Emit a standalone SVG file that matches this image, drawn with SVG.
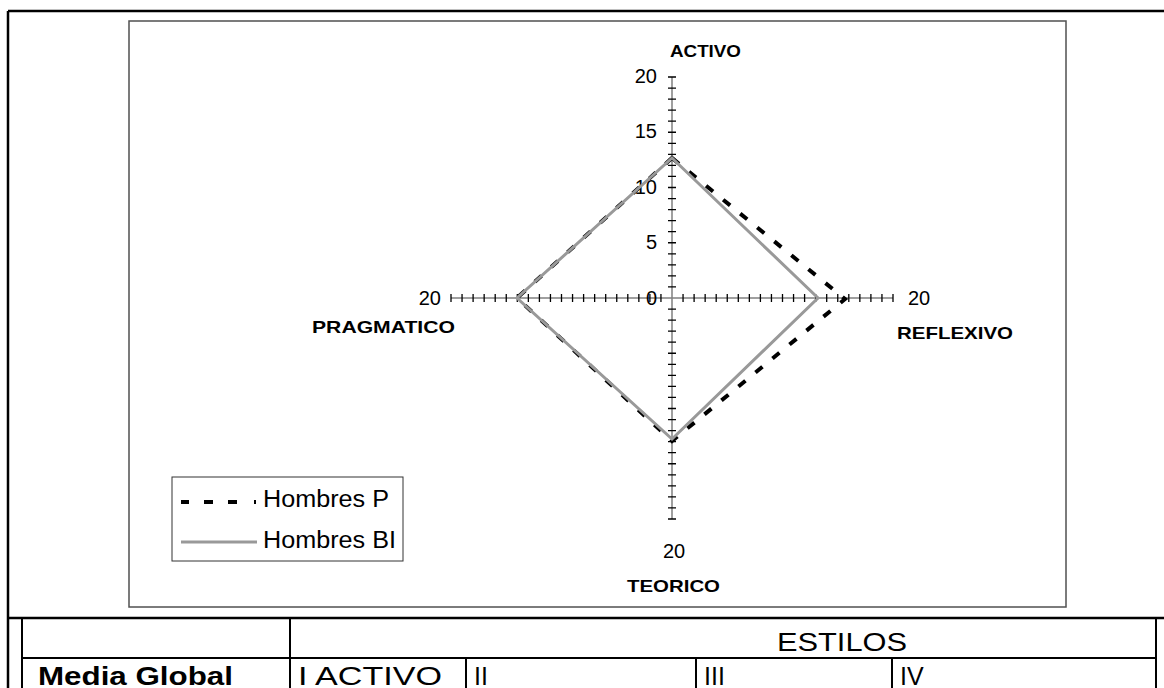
<svg xmlns="http://www.w3.org/2000/svg" width="1164" height="688" viewBox="0 0 1164 688">
<style>
.num{font-family:"Liberation Sans",Arial,sans-serif;font-size:20px;fill:#000}
.lab{font-family:"Liberation Sans",Arial,sans-serif;font-size:16.5px;font-weight:bold;fill:#000}
.leg{font-family:"Liberation Sans",Arial,sans-serif;font-size:23px;fill:#000}
.tb{font-family:"Liberation Sans",Arial,sans-serif;font-size:25px;fill:#000}
.tbb{font-family:"Liberation Sans",Arial,sans-serif;font-size:25px;font-weight:bold;fill:#000}
.frame{stroke:#000;stroke-width:2.5;fill:none}
.grid{stroke:#000;stroke-width:2;fill:none}
.axis{stroke:#808080;stroke-width:1.5;fill:none}
.tick{stroke:#000;stroke-width:1.3;fill:none}
.bi{stroke:#999;stroke-width:3;fill:none;stroke-linejoin:miter}
.p{stroke:#000;stroke-width:4;fill:none;stroke-dasharray:9 13}
</style>
<rect width="1164" height="688" fill="#fff"/>
<g id="frame">
<path class="frame" d="M8,11 H1164 M8,11 V688 M8,618 H1164"/>
</g>
<g id="chart">
<rect x="129" y="21" width="937" height="586" fill="#fff" stroke="#505050" stroke-width="1.5"/>
</g>
<g id="axes">
<path class="axis" d="M672,77 V519 M451,298 H893"/>
<path class="tick" d="M668,77.0h8M668,88.05h8M668,99.1h8M668,110.15h8M668,121.2h8M668,132.25h8M668,143.3h8M668,154.35h8M668,165.4h8M668,176.45h8M668,187.5h8M668,198.55h8M668,209.6h8M668,220.65h8M668,231.7h8M668,242.75h8M668,253.8h8M668,264.85h8M668,275.9h8M668,286.95h8M668,309.05h8M668,320.1h8M668,331.15h8M668,342.2h8M668,353.25h8M668,364.3h8M668,375.35h8M668,386.4h8M668,397.45h8M668,408.5h8M668,419.55h8M668,430.6h8M668,441.65h8M668,452.7h8M668,463.75h8M668,474.8h8M668,485.85h8M668,496.9h8M668,507.95h8M668,519.0h8"/>
<path class="tick" d="M451.0,294v8M462.05,294v8M473.1,294v8M484.15,294v8M495.2,294v8M506.25,294v8M517.3,294v8M528.35,294v8M539.4,294v8M550.45,294v8M561.5,294v8M572.55,294v8M583.6,294v8M594.65,294v8M605.7,294v8M616.75,294v8M627.8,294v8M638.85,294v8M649.9,294v8M660.95,294v8M683.05,294v8M694.1,294v8M705.15,294v8M716.2,294v8M727.25,294v8M738.3,294v8M749.35,294v8M760.4,294v8M771.45,294v8M782.5,294v8M793.55,294v8M804.6,294v8M815.65,294v8M826.7,294v8M837.75,294v8M848.8,294v8M859.85,294v8M870.9,294v8M881.95,294v8M893.0,294v8"/>
<text class="num" x="657" y="83" text-anchor="end">20</text>
<text class="num" x="657" y="138" text-anchor="end">15</text>
<text class="num" x="657" y="194" text-anchor="end">10</text>
<text class="num" x="657" y="249" text-anchor="end">5</text>
<text class="num" x="657" y="305" text-anchor="end">0</text>
<text class="num" x="441" y="305" text-anchor="end">20</text>
<text class="num" x="908" y="305">20</text>
<text class="num" x="674" y="558" text-anchor="middle">20</text>
<text class="lab" x="670" y="57" textLength="71" lengthAdjust="spacingAndGlyphs">ACTIVO</text>
<text class="lab" x="312" y="333" textLength="143" lengthAdjust="spacingAndGlyphs">PRAGMATICO</text>
<text class="lab" x="897" y="339" textLength="116" lengthAdjust="spacingAndGlyphs">REFLEXIVO</text>
<text class="lab" x="627" y="592" textLength="93" lengthAdjust="spacingAndGlyphs">TEORICO</text>
</g>
<g id="series">
<polygon class="p" points="672,158 845,299 672,441 517,298"/>
<polygon class="bi" points="672,158 818,298 672,439 517,298"/>
</g>
<g id="legend">
<rect x="172" y="477" width="231" height="84" fill="#fff" stroke="#333" stroke-width="1"/>
<path class="p" d="M181,502h8M204,502h9M228,502h9M254,502h2" stroke-dasharray="none"/>
<line class="bi" x1="181" y1="542" x2="257" y2="542"/>
<text class="leg" x="263" y="507" textLength="126" lengthAdjust="spacingAndGlyphs">Hombres P</text>
<text class="leg" x="263" y="548" textLength="133" lengthAdjust="spacingAndGlyphs">Hombres BI</text>
</g>
<g id="table">
<path class="grid" d="M22,618 V688 M290,618 V688 M1156,618 V688 M22,658 H1156 M466,658 V688 M696,658 V688 M892,658 V688"/>
<text class="tb" x="777" y="651" textLength="130" lengthAdjust="spacingAndGlyphs">ESTILOS</text>
<text class="tbb" x="38" y="685" textLength="195" lengthAdjust="spacingAndGlyphs">Media Global</text>
<text class="tb" x="298" y="685" textLength="144" lengthAdjust="spacingAndGlyphs">I ACTIVO</text>
<text class="tb" x="474" y="685">II</text>
<text class="tb" x="704" y="685">III</text>
<text class="tb" x="900" y="685">IV</text>
</g>
</svg>
